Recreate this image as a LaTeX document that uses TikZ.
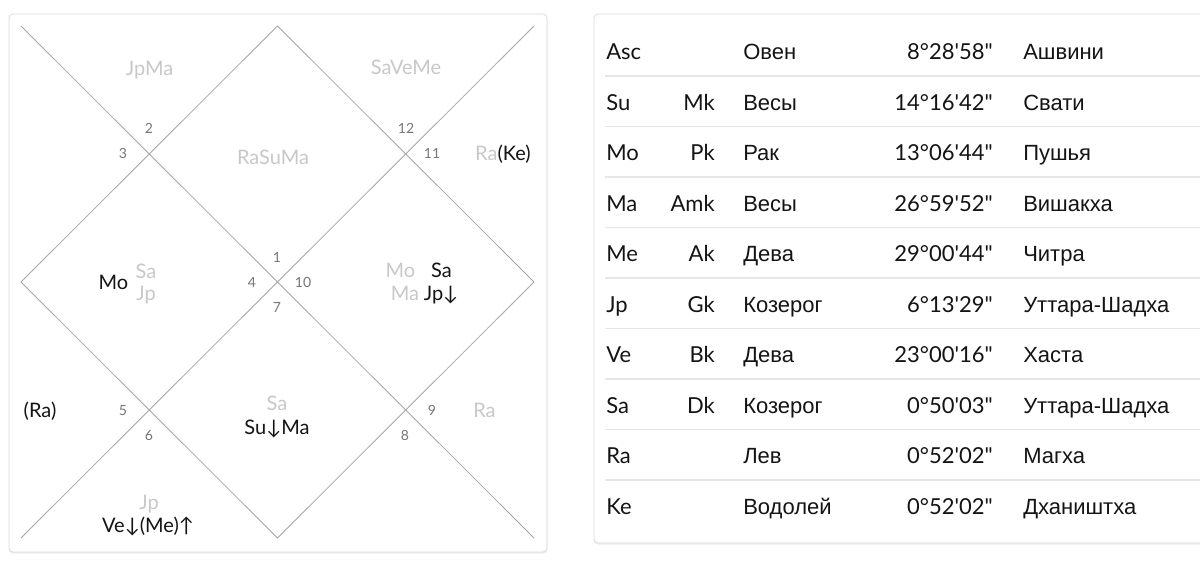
\documentclass[tikz,border=0pt]{standalone}
\usepackage{fontspec}
\newfontfamily\latofont{Lato}
\newfontfamily\cyrfont{Liberation Sans}
\definecolor{chartline}{HTML}{A6A6A6}
\definecolor{dimtext}{HTML}{C8C8C8}
\definecolor{numtext}{HTML}{777777}
\definecolor{boxline}{HTML}{DADADA}
\definecolor{sepline}{HTML}{E6E6E6}
\definecolor{inktext}{HTML}{141414}
\tikzset{
  lbl/.style={inner sep=0pt,text height=12pt,text depth=1.2pt,text=inktext},
  dim/.style={lbl,text=dimtext},
  tab/.style={inner sep=0pt,text height=13.2pt,text depth=1.3pt,text=inktext,
    font=\latofont\fontsize{16.5}{19}\selectfont},
  num/.style={inner sep=0pt,text height=8.5pt,text depth=1pt,text=numtext,
    font=\latofont\fontsize{10.5}{12}\selectfont},
  card/.style={draw=boxline,fill=white,rounded corners=3pt,line width=0.6pt}
}
\begin{document}
\begin{tikzpicture}[x=0.75pt,y=-0.75pt,font=\latofont\fontsize{15}{18}\selectfont]
	\useasboundingbox (0,0) rectangle (1200,567);
	% cards
	\fill[black!7,rounded corners=3pt] (9,15.5) rectangle (547.5,553.5);
	\fill[black!7,rounded corners=3pt] (594,15.5) rectangle (1215,544.5);
	\draw[card] (9,14) rectangle (547,552);
	\draw[card] (594,14) rectangle (1215,543);
	% chart
	\path
	(21,26) coordinate (TL)
	(534,26) coordinate (TR)
	(21,538) coordinate (BL)
	(534,538) coordinate (BR)
	(277.5,26) coordinate (T)
	(534,282) coordinate (R)
	(277.5,538) coordinate (B)
	(21,282) coordinate (L);
	\draw[chartline,line width=0.6pt] (TL)--(BR) (TR)--(BL) (T)--(R)--(B)--(L)--cycle;
	\foreach \n/\x/\y in {1/277/257,2/149/128,3/123/153,4/252/282,5/123/410,6/149/435,
		7/277/307,8/405/435,9/432/410,10/303/282,11/432/153,12/406/128}
		\node[num] (h\n) at (\x,\y) {\n};
	% planets
	\node[dim] (p2) at (149.5,68) {JpMa};
	\node[dim] (p1) at (273,157) {RaSuMa};
	\node[dim] (p12) at (406,67) {SaVeMe};
	\node[lbl] (p11) at (503,153) {\textcolor{dimtext}{Ra}(Ke)};
	\node[lbl] (p4a) at (113.5,282) {Mo};
	\node[dim] (p4b) at (146,271) {Sa};
	\node[dim] (p4c) at (146,293) {Jp};
	\node[dim] (p10a) at (400.5,270) {Mo};
	\node[lbl] (p10b) at (441.5,270) {Sa};
	\node[dim] (p10c) at (405,293) {Ma};
	\node[lbl] (p10d) at (441,293) {Jp↓};
	\node[lbl] (p5) at (40,410) {(Ra)};
	\node[dim] (p7a) at (277,403) {Sa};
	\node[lbl] (p7b) at (277,427) {Su↓Ma};
	\node[dim] (p6a) at (149,502) {Jp};
	\node[lbl] (p6b) at (148,525) {Ve↓(Me)↑};
	\node[dim] (p9) at (484.5,410) {Ra};
	% table
	\foreach \i in {1,...,9}
		\draw[sepline,line width=0.9pt] (605,76+50.5*\i-50.5) -- (1215,76+50.5*\i-50.5);
	\foreach \p/\k/\s/\d/\q [count=\i] in {
		Asc//Овен/8°28'58"/Ашвини,
		Su/Mk/Весы/14°16'42"/Свати,
		Mo/Pk/Рак/13°06'44"/Пушья,
		Ma/Amk/Весы/26°59'52"/Вишакха,
		Me/Ak/Дева/29°00'44"/Читра,
		Jp/Gk/Козерог/6°13'29"/Уттара-Шадха,
		Ve/Bk/Дева/23°00'16"/Хаста,
		Sa/Dk/Козерог/0°50'03"/Уттара-Шадха,
		Ra//Лев/0°52'02"/Магха,
		Ke//Водолей/0°52'02"/Дхаништха}
	{
		\node[tab,anchor=west] (r\i a) at (606,52+50.5*\i-50.5) {\p};
		\node[tab,anchor=east] (r\i b) at (715,52+50.5*\i-50.5) {\k};
		\node[tab,anchor=west] (r\i c) at (743,52+50.5*\i-50.5) {\cyrfont\s};
		\node[tab,anchor=east] (r\i d) at (993,52+50.5*\i-50.5) {\d};
		\node[tab,anchor=west] (r\i e) at (1023,52+50.5*\i-50.5) {\cyrfont\q};
	}
\end{tikzpicture}
\end{document}
